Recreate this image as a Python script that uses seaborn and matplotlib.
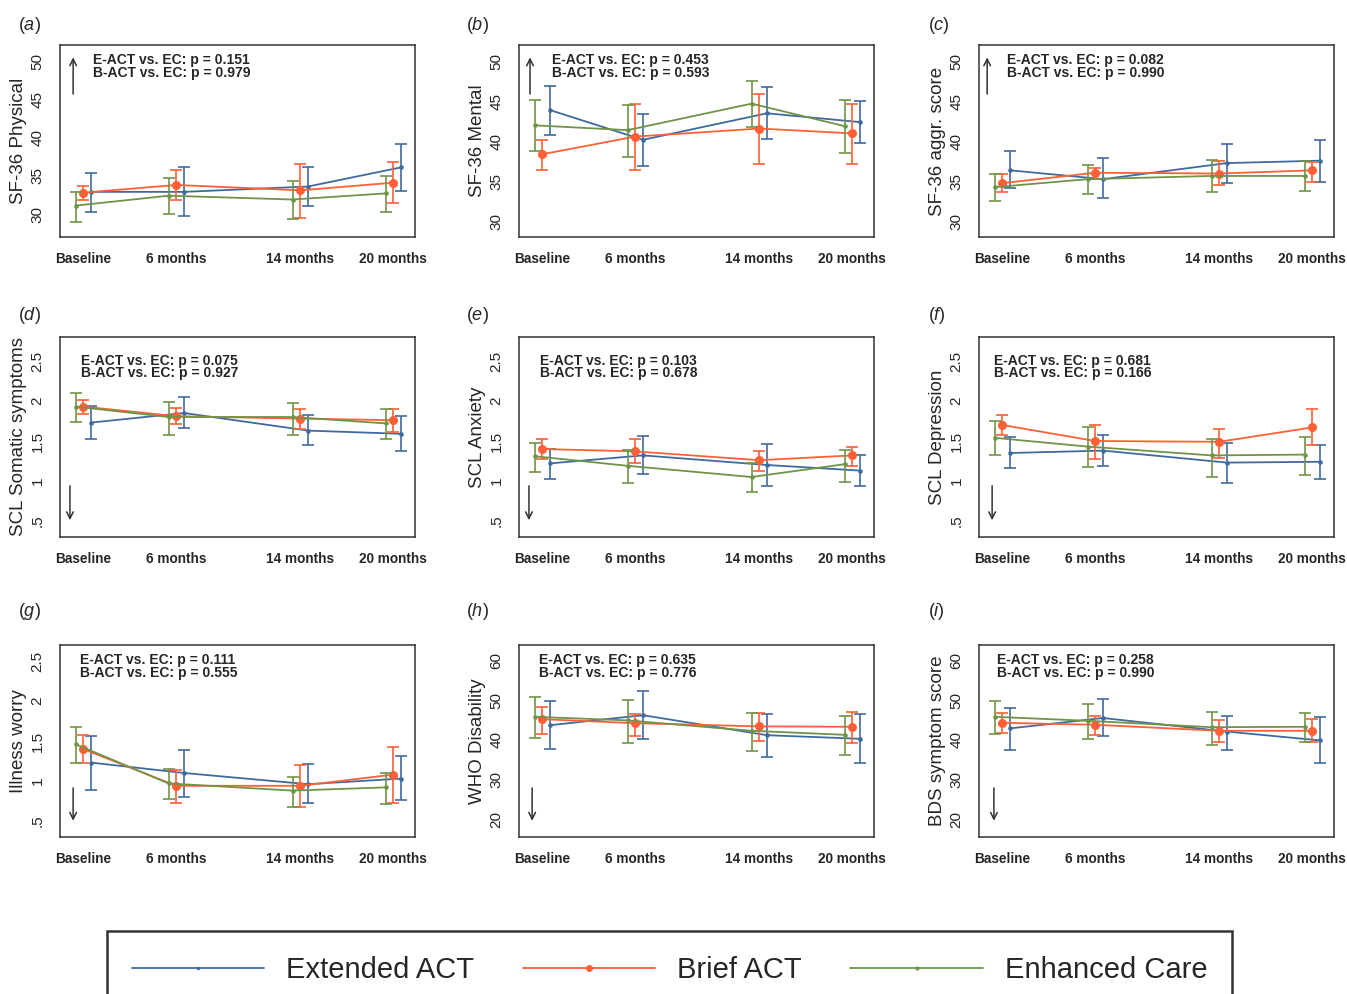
import matplotlib
matplotlib.use("Agg")
import matplotlib.pyplot as plt
from matplotlib.lines import Line2D
import pandas as pd
import seaborn as sns


# ==================== DATA ====================
MONTHS = [0, 6, 14, 20]
TIME_LABELS = ["Baseline", "6 months", "14 months", "20 months"]
GROUPS = ["Extended ACT", "Brief ACT", "Enhanced Care"]
PANEL_LETTERS = ["a", "b", "c", "d", "e", "f", "g", "h", "i"]
Y_LABELS = ["SF-36 Physical", "SF-36 Mental", "SF-36 aggr. score",
            "SCL Somatic symptoms", "SCL Anxiety", "SCL Depression",
            "Illness worry", "WHO Disability", "BDS symptom score"]
P_EACT = ["0.151", "0.453", "0.082", "0.075", "0.103", "0.681", "0.111", "0.635", "0.258"]
P_BACT = ["0.979", "0.593", "0.990", "0.927", "0.678", "0.166", "0.555", "0.776", "0.990"]

# every block below: rows = Extended ACT, Brief ACT, Enhanced Care; cols = MONTHS
phys_mean = [[32.9, 32.9, 33.6, 36.1], [32.8, 33.8, 33.1, 34.1], [31.1, 32.4, 31.9, 32.7]]
phys_lo = [[30.3, 29.7, 31.0, 33.0], [31.8, 31.9, 29.5, 31.4], [29.0, 30.0, 29.4, 30.3]]
phys_hi = [[35.4, 36.2, 36.2, 39.1], [33.7, 35.7, 36.5, 36.8], [32.9, 34.7, 34.3, 35.0]]

ment_mean = [[43.9, 40.2, 43.5, 42.4], [38.4, 40.6, 41.6, 41.0], [42.0, 41.4, 44.7, 41.9]]
ment_lo = [[40.8, 37.0, 40.3, 39.8], [36.4, 36.4, 37.2, 37.2], [38.8, 38.0, 41.8, 38.5]]
ment_hi = [[46.9, 43.4, 46.8, 45.0], [40.2, 44.6, 45.9, 44.7], [45.1, 44.5, 47.5, 45.1]]

aggr_mean = [[36.4, 35.3, 37.3, 37.6], [34.8, 36.1, 36.0, 36.4], [34.3, 35.3, 35.7, 35.7]]
aggr_lo = [[34.2, 33.0, 34.8, 34.9], [33.7, 35.3, 34.6, 35.0], [32.6, 33.4, 33.7, 33.8]]
aggr_hi = [[38.8, 37.9, 39.7, 40.2], [35.9, 36.7, 37.6, 37.4], [36.0, 37.1, 37.7, 37.6]]

soma_mean = [[1.73, 1.85, 1.63, 1.59], [1.93, 1.81, 1.78, 1.76], [1.93, 1.80, 1.80, 1.72]]
soma_lo = [[1.53, 1.66, 1.45, 1.38], [1.84, 1.71, 1.65, 1.61], [1.74, 1.58, 1.58, 1.53]]
soma_hi = [[1.94, 2.05, 1.82, 1.81], [2.01, 1.91, 1.90, 1.90], [2.10, 1.99, 1.98, 1.90]]

anx_mean = [[1.22, 1.32, 1.20, 1.13], [1.40, 1.37, 1.26, 1.32], [1.31, 1.19, 1.05, 1.21]]
anx_lo = [[1.02, 1.09, 0.94, 0.94], [1.27, 1.22, 1.13, 1.19], [1.11, 0.98, 0.86, 0.99]]
anx_hi = [[1.40, 1.56, 1.46, 1.32], [1.53, 1.52, 1.38, 1.43], [1.47, 1.39, 1.23, 1.39]]

dep_mean = [[1.35, 1.38, 1.23, 1.24], [1.70, 1.50, 1.49, 1.67], [1.54, 1.43, 1.32, 1.33]]
dep_lo = [[1.16, 1.19, 0.98, 1.03], [1.57, 1.28, 1.29, 1.45], [1.32, 1.17, 1.05, 1.08]]
dep_hi = [[1.55, 1.58, 1.48, 1.45], [1.82, 1.70, 1.65, 1.90], [1.75, 1.68, 1.53, 1.55]]

worry_mean = [[1.23, 1.10, 0.96, 1.03], [1.40, 0.94, 0.94, 1.08], [1.46, 0.97, 0.88, 0.92]]
worry_lo = [[0.89, 0.80, 0.72, 0.76], [1.22, 0.73, 0.68, 0.73], [1.22, 0.77, 0.68, 0.71]]
worry_hi = [[1.56, 1.39, 1.21, 1.31], [1.57, 1.14, 1.20, 1.42], [1.67, 1.15, 1.05, 1.10]]

whodas_mean = [[43.7, 46.2, 41.2, 40.3], [45.2, 44.2, 43.4, 43.3], [45.8, 44.9, 42.3, 41.3]]
whodas_lo = [[37.8, 40.3, 35.8, 34.2], [41.5, 41.1, 39.8, 39.3], [40.6, 39.3, 37.2, 36.3]]
whodas_hi = [[49.8, 52.3, 46.4, 46.4], [48.3, 46.4, 46.7, 47.0], [50.8, 50.1, 46.7, 46.0]]

bds_mean = [[42.9, 45.5, 42.1, 39.9], [44.3, 43.8, 42.3, 42.3], [45.8, 44.8, 43.2, 43.3]]
bds_lo = [[37.5, 41.0, 37.5, 34.3], [41.7, 41.3, 39.6, 39.4], [41.5, 40.3, 38.7, 39.4]]
bds_hi = [[48.1, 50.2, 46.1, 45.8], [46.7, 46.0, 45.0, 45.3], [49.8, 48.9, 47.0, 46.7]]

SF_TICKS = [30, 35, 40, 45, 50]
SCL_TICKS = [0.5, 1, 1.5, 2, 2.5]
SCL_TICK_LABELS = [".5", "1", "1.5", "2", "2.5"]
DIS_TICKS = [20, 30, 40, 50, 60]


# ==================== STYLE / LAYOUT ====================
COLORS = ["#3f6a9e", "#ff5f36", "#6f9447"]
MARKER_SIZE = [3.3, 6.5, 3.3]
LEGEND_MARKER = [2.5, 5, 3]
GROUP_SHIFT = [0.5, 0.0, -0.5]      # months, dodge the three groups
DRAW_ORDER = [2, 1, 0]

FIG_W, FIG_H = 1347, 994
COL_LEFT = [60, 519, 979]
AX_W = 355
ROWS = [(45, 237), (337, 537), (645, 837)]
YLIMS = [(27.0, 52.1), (28.1, 52.0), (28.1, 52.0),
         (0.3, 2.8), (0.3, 2.8), (0.3, 2.8),
         (0.3, 2.7), (15.75, 63.75), (15.75, 63.75)]
TEXT_X = [0.093, 0.092, 0.078, 0.06, 0.06, 0.043, 0.056, 0.057, 0.05]
TEXT_Y = [(0.92, 0.855), (0.92, 0.855), (0.92, 0.855),
          (0.88, 0.82), (0.88, 0.82), (0.88, 0.82),
          (0.92, 0.855), (0.92, 0.855), (0.92, 0.855)]
ARROW_X = [0.037, 0.031, 0.023, 0.028, 0.028, 0.037, 0.037, 0.037, 0.042]


def panel_frame(mean, lo, hi):
    rows = []
    for g, name in enumerate(GROUPS):
        for t, m in enumerate(MONTHS):
            rows.append(dict(group=name, g=g, month=m, x=m + GROUP_SHIFT[g],
                             mean=mean[g][t], lo=lo[g][t], hi=hi[g][t]))
    return pd.DataFrame(rows)


def draw_panel(ax, df, k):
    for g in DRAW_ORDER:
        sub = df[df.g == g]
        c = COLORS[g]
        ax.errorbar(sub.x, sub["mean"], yerr=[sub["mean"] - sub.lo, sub.hi - sub["mean"]],
                    fmt="none", ecolor=c, elinewidth=1.2, capsize=4, capthick=1.2, zorder=2 + g)
        sns.lineplot(x=sub.x, y=sub["mean"], ax=ax, color=c, lw=1.3, marker="o",
                     markersize=MARKER_SIZE[g], markeredgewidth=0, legend=False, zorder=2 + g)

    ax.set_xlim(-1.5, 21.4)
    ax.set_ylim(*YLIMS[k])
    ax.set_xticks(MONTHS, TIME_LABELS)
    if k < 3:
        ax.set_yticks(SF_TICKS, [str(t) for t in SF_TICKS])
    elif k < 7:
        ax.set_yticks(SCL_TICKS, SCL_TICK_LABELS)
    else:
        ax.set_yticks(DIS_TICKS, [str(t) for t in DIS_TICKS])

    ax.tick_params(axis="x", length=6.5, width=1, color="#333333", pad=4, labelsize=9.8)
    ax.tick_params(axis="y", length=6, width=1, color="#333333", pad=5, labelsize=11,
                   labelrotation=90)
    for lab in ax.get_xticklabels():
        lab.set_fontweight("bold")
    for lab in ax.get_yticklabels():
        lab.set_va("center")
    for sp in ax.spines.values():
        sp.set_color("#333333")
        sp.set_linewidth(1.1)

    ax.set_xlabel("")
    ax.set_ylabel(Y_LABELS[k], fontsize=13.5, labelpad=3)

    ax.text(TEXT_X[k], TEXT_Y[k][0], f"E-ACT vs. EC: p = {P_EACT[k]}", transform=ax.transAxes,
            ha="left", va="center", fontsize=10, fontweight="bold")
    ax.text(TEXT_X[k], TEXT_Y[k][1], f"B-ACT vs. EC: p = {P_BACT[k]}", transform=ax.transAxes,
            ha="left", va="center", fontsize=10, fontweight="bold")

    # direction of improvement
    if k < 3:
        tail, tip = 0.73, 0.95
    else:
        tail, tip = 0.27, 0.07
    ax.annotate("", xy=(ARROW_X[k], tip), xytext=(ARROW_X[k], tail), xycoords="axes fraction",
                arrowprops=dict(arrowstyle="->", lw=1.1, color="#333333"))


def main():
    sns.set_theme(style="white")
    plt.rcParams["font.family"] = ["Liberation Sans", "DejaVu Sans"]
    plt.rcParams["mathtext.fontset"] = "custom"
    plt.rcParams["mathtext.rm"] = "Liberation Sans"
    plt.rcParams["mathtext.it"] = "Liberation Sans:italic"

    data = [(phys_mean, phys_lo, phys_hi), (ment_mean, ment_lo, ment_hi),
            (aggr_mean, aggr_lo, aggr_hi), (soma_mean, soma_lo, soma_hi),
            (anx_mean, anx_lo, anx_hi), (dep_mean, dep_lo, dep_hi),
            (worry_mean, worry_lo, worry_hi), (whodas_mean, whodas_lo, whodas_hi),
            (bds_mean, bds_lo, bds_hi)]

    fig = plt.figure(figsize=(FIG_W / 100, FIG_H / 100), dpi=100)
    label_y = [25, 316, 612]
    label_x = [18, 466, 928]
    for k, (mean, lo, hi) in enumerate(data):
        r, c = divmod(k, 3)
        top, bot = ROWS[r]
        ax = fig.add_axes([COL_LEFT[c] / FIG_W, 1 - bot / FIG_H, AX_W / FIG_W, (bot - top) / FIG_H])
        draw_panel(ax, panel_frame(mean, lo, hi), k)
        fig.text(label_x[c] / FIG_W, 1 - label_y[r] / FIG_H, rf"($\it{{{PANEL_LETTERS[k]}}}$)",
                 fontsize=13, ha="left", va="center")

    handles = [Line2D([], [], color=COLORS[g], lw=1.3, marker="o", markersize=LEGEND_MARKER[g],
                      markeredgewidth=0) for g in range(3)]
    leg = fig.legend(handles, GROUPS, loc="upper center", bbox_to_anchor=(0.497, 1 - 931 / FIG_H),
                     ncol=3, frameon=True, fancybox=False, edgecolor="black", fontsize=21,
                     handlelength=4.55, handletextpad=0.75, columnspacing=1.66, borderpad=0.85,
                     borderaxespad=0)
    leg.get_frame().set_linewidth(1.8)

    fig.savefig("out.png", dpi=100)
    plt.close(fig)


if __name__ == "__main__":
    main()
